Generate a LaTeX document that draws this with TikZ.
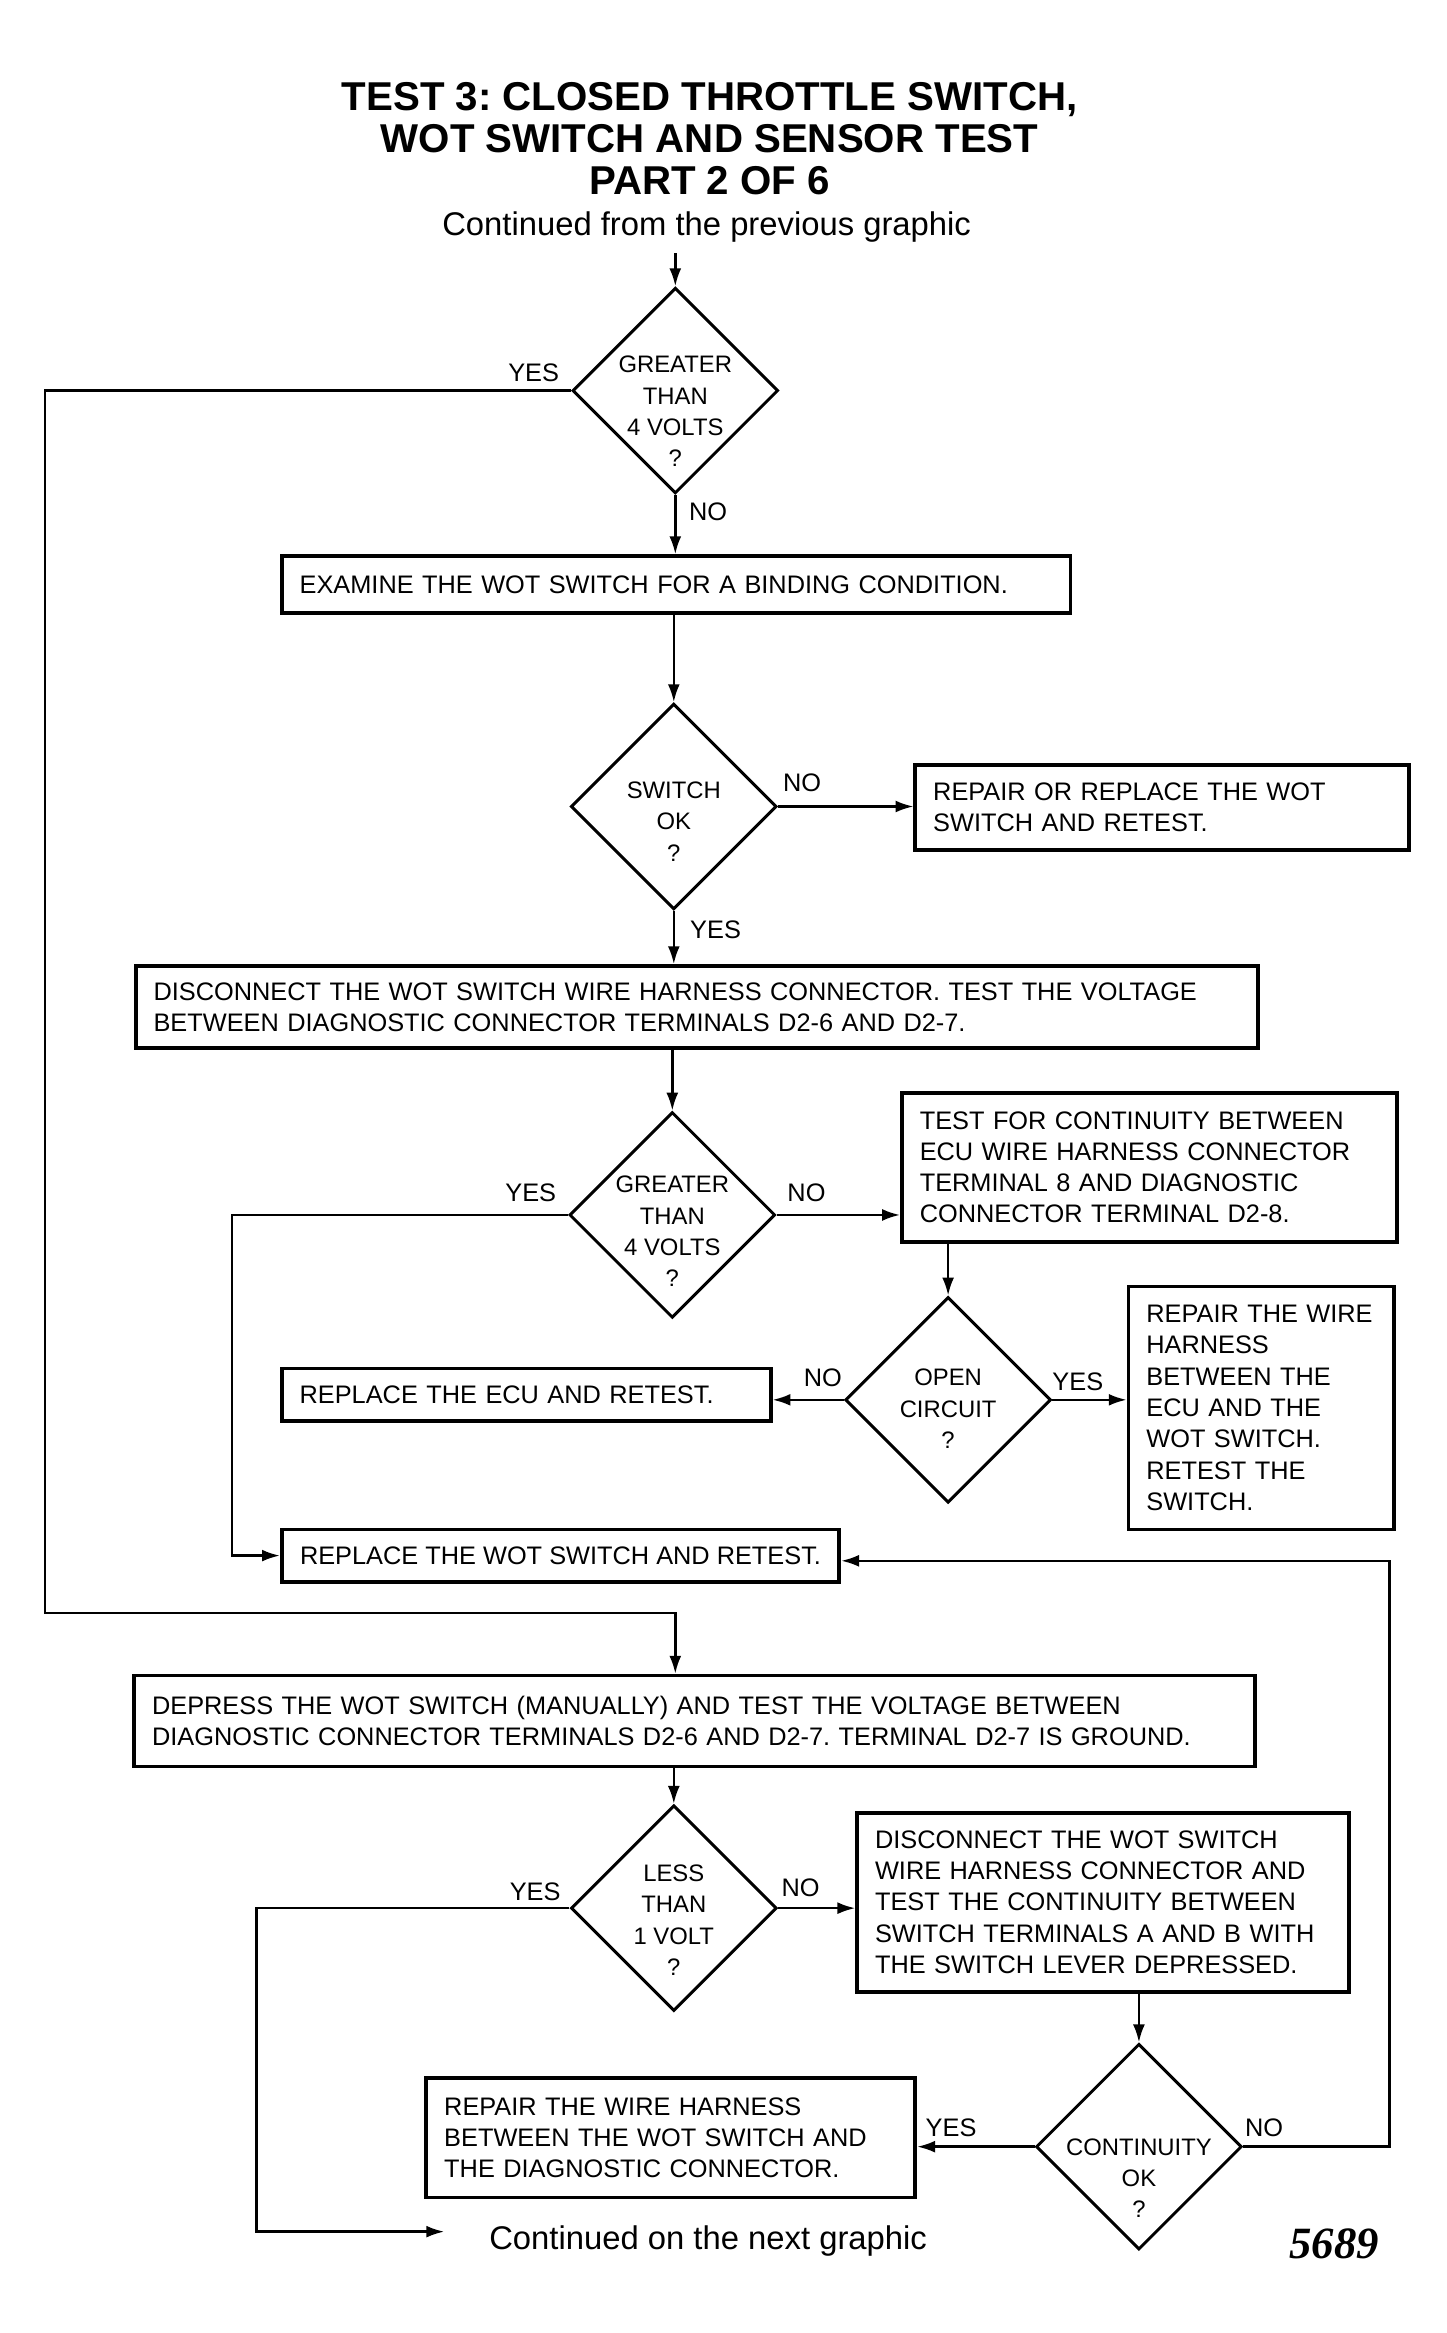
\documentclass[tikz,border=0pt]{standalone}
\usepackage{fontspec}
\setmainfont{Liberation Sans}
\newfontfamily\plateno{Liberation Serif}
\usetikzlibrary{shapes.geometric, arrows.meta}
\frenchspacing

\begin{document}
\begin{tikzpicture}[x=1pt, y=-1pt,
        >={Latex[length=12pt, width=8pt]},
        every node/.style={font=\fontsize{17}{21}\selectfont},
        stepbox/.style={draw, line width=2.5pt, align=left, inner xsep=12pt, inner ysep=0pt},
        query/.style={diamond, draw, line width=2pt, minimum width=138pt, minimum height=138pt, inner sep=0pt},
        answer/.style={inner sep=0pt},
        flow/.style={line width=1.6pt}]
        \useasboundingbox (0, 0) rectangle (970, 1565);

        \node[align=center, font=\fontsize{27}{28}\selectfont\bfseries] (title) at (476, 93) {TEST 3: CLOSED THROTTLE SWITCH,\\WOT SWITCH AND SENSOR TEST\\PART 2 OF 6};
        \node[font=\fontsize{22}{26}\selectfont] (from-prev) at (474, 152) {Continued from the previous graphic};
        \coordinate (entry) at (453, 170);

        % first check
        \node[query, label={[yshift=-14pt, align=center, font=\fontsize{16}{21}\selectfont]center:GREATER\\THAN\\4 VOLTS\\?}] (volts-a) at (453, 262) {};
        \node[stepbox, text width=505pt, minimum height=38pt] (examine) at (453.5, 392) {EXAMINE THE WOT SWITCH FOR A BINDING CONDITION.};
        \node[query, label={[yshift=-10pt, align=center, font=\fontsize{16}{21}\selectfont]center:SWITCH\\OK\\?}] (switch-ok) at (452, 541) {};
        \node[stepbox, text width=307pt, minimum height=57pt] (repair-wot) at (779.5, 541.5) {REPAIR OR REPLACE THE WOT\\SWITCH AND RETEST.};
        \node[stepbox, text width=729pt, minimum height=55pt] (disconnect) at (467.5, 675.5) {DISCONNECT THE WOT SWITCH WIRE HARNESS CONNECTOR. TEST THE VOLTAGE\\BETWEEN DIAGNOSTIC CONNECTOR TERMINALS D2-6 AND D2-7.};

        % second check
        \node[query, label={[yshift=-11pt, align=center, font=\fontsize{16}{21}\selectfont]center:GREATER\\THAN\\4 VOLTS\\?}] (volts-b) at (451, 815) {};
        \node[stepbox, text width=308pt, minimum height=100pt] (continuity) at (771, 783) {TEST FOR CONTINUITY BETWEEN\\ECU WIRE HARNESS CONNECTOR\\TERMINAL 8 AND DIAGNOSTIC\\CONNECTOR TERMINAL D2-8.};
        \node[query, label={[yshift=-6pt, align=center, font=\fontsize{16}{21}\selectfont]center:OPEN\\CIRCUIT\\?}] (open) at (636, 939) {};
        \node[stepbox, text width=304pt, minimum height=35pt] (replace-ecu) at (353, 935.5) {REPLACE THE ECU AND RETEST.};
        \node[stepbox, text width=154pt, minimum height=163pt] (repair-wire) at (846, 944.5) {REPAIR THE WIRE\\HARNESS\\BETWEEN THE\\ECU AND THE\\WOT SWITCH.\\RETEST THE\\SWITCH.};
        \node[stepbox, minimum width=374pt, minimum height=35pt] (replace-wot) at (376, 1043.5) {REPLACE THE WOT SWITCH AND RETEST.};

        % third check
        \node[stepbox, text width=728pt, minimum height=61pt] (depress) at (466, 1154.5) {DEPRESS THE WOT SWITCH (MANUALLY) AND TEST THE VOLTAGE BETWEEN\\DIAGNOSTIC CONNECTOR TERMINALS D2-6 AND D2-7. TERMINAL D2-7 IS GROUND.};
        \node[query, label={[yshift=-8pt, align=center, font=\fontsize{16}{21}\selectfont]center:LESS\\THAN\\1 VOLT\\?}] (volt-low) at (452, 1280) {};
        \node[stepbox, text width=306pt, minimum height=120pt] (unplug) at (740, 1276) {DISCONNECT THE WOT SWITCH\\WIRE HARNESS CONNECTOR AND\\TEST THE CONTINUITY BETWEEN\\SWITCH TERMINALS A AND B WITH\\THE SWITCH LEVER DEPRESSED.};
        \node[query, label={[yshift=-21pt, align=center, font=\fontsize{16}{21}\selectfont]center:CONTINUITY\\OK\\?}] (cont-ok) at (764, 1440) {};
        \node[stepbox, text width=304pt, minimum height=80pt] (repair-harness) at (450, 1434) {REPAIR THE WIRE HARNESS\\BETWEEN THE WOT SWITCH AND\\THE DIAGNOSTIC CONNECTOR.};

        \node[font=\fontsize{22}{26}\selectfont] (to-next) at (475, 1503) {Continued on the next graphic};
        \node[font=\fontsize{30}{34}\selectfont\plateno\bfseries\itshape] (plate) at (895, 1505) {5689};

        % answers
        \node[answer] (yes-a) at (358, 250) {YES};
        \node[answer] (no-a) at (475, 343) {NO};
        \node[answer] (no-b) at (538, 525) {NO};
        \node[answer] (yes-b) at (480, 624) {YES};
        \node[answer] (yes-c) at (356, 800) {YES};
        \node[answer] (no-c) at (541, 800) {NO};
        \node[answer] (no-d) at (552, 924) {NO};
        \node[answer] (yes-d) at (723, 927) {YES};
        \node[answer] (yes-e) at (359, 1269) {YES};
        \node[answer] (no-e) at (537, 1266) {NO};
        \node[answer] (yes-f) at (638, 1427) {YES};
        \node[answer] (no-f) at (848, 1427) {NO};

        \coordinate (left-rail) at (30, 1082);
        \coordinate (right-rail) at (932, 1047);
        \coordinate (yes-drop) at (172, 1497);
        \coordinate (onward) at (298, 1497);

        \draw[flow, ->] (entry) -- (volts-a.north);
        \draw[flow, ->] (volts-a.south) -- (volts-a.south |- examine.north);
        \draw[flow, ->] (volts-a.west) -| (left-rail) -| (depress.north -| volts-a.south);
        \draw[flow, ->] (examine.south -| switch-ok.north) -- (switch-ok.north);
        \draw[flow, ->] (switch-ok.east) -- (switch-ok.east -| repair-wot.west);
        \draw[flow, ->] (switch-ok.south) -- (switch-ok.south |- disconnect.north);
        \draw[flow, ->] (disconnect.south -| volts-b.north) -- (volts-b.north);
        \draw[flow, ->] (volts-b.east) -- (volts-b.east -| continuity.west);
        \draw[flow, ->] (volts-b.west) -| ([xshift=-32pt]replace-wot.west) -- (replace-wot.west);
        \draw[flow, ->] (continuity.south -| open.north) -- (open.north);
        \draw[flow, ->] (open.west) -- (open.west -| replace-ecu.east);
        \draw[flow, ->] (open.east) -- (open.east -| repair-wire.west);
        \draw[flow, ->] (depress.south -| volt-low.north) -- (volt-low.north);
        \draw[flow, ->] (volt-low.east) -- (volt-low.east -| unplug.west);
        \draw[flow, ->] (volt-low.west) -| (yes-drop) -- (onward);
        \draw[flow, ->] (unplug.south -| cont-ok.north) -- (cont-ok.north);
        \draw[flow, ->] (cont-ok.west) -- (cont-ok.west -| repair-harness.east);
        \draw[flow, ->] (cont-ok.east) -| (right-rail) -- (right-rail -| replace-wot.east);
    \end{tikzpicture}
\end{document}
